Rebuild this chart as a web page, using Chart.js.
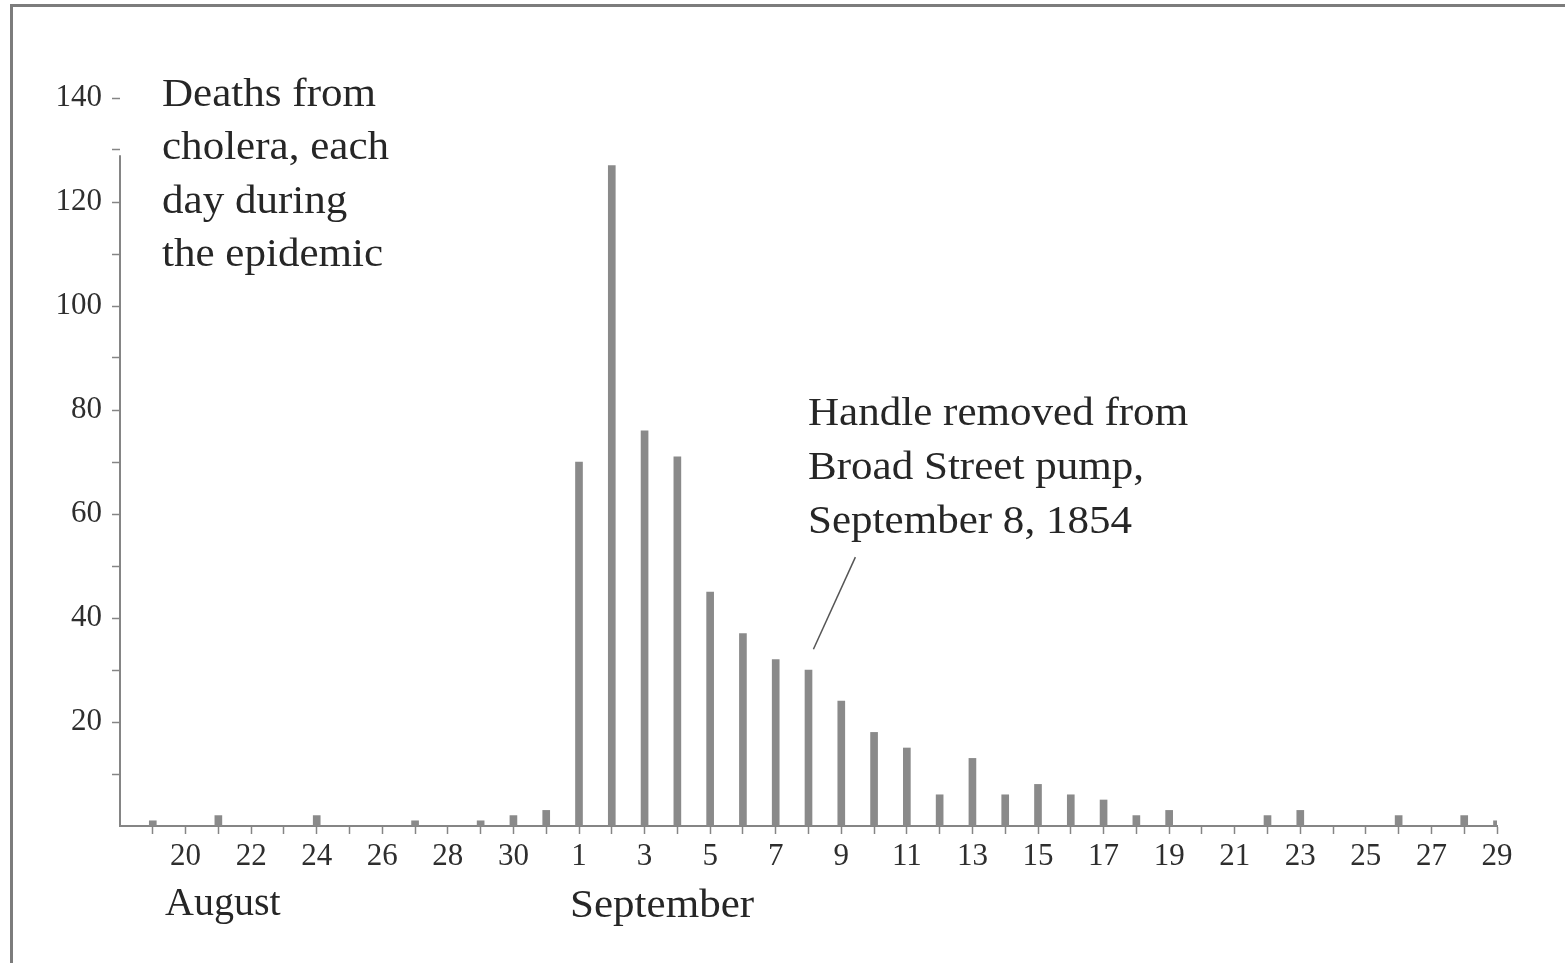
<!DOCTYPE html>
<html>
<head>
<meta charset="utf-8">
<script src="https://cdn.jsdelivr.net/npm/chart.js@4.4.1/dist/chart.umd.min.js"></script>
<style>
  html, body { margin: 0; padding: 0; background: #ffffff; }
  #wrap { position: relative; width: 1565px; height: 963px; overflow: hidden; background: #fff; }
  #frame { position: absolute; left: 10px; top: 4px; width: 1600px; height: 1000px;
           border-top: 3px solid #7c7c7c; border-left: 3px solid #7c7c7c; box-sizing: border-box; pointer-events: none; }
  canvas { position: absolute; left: 0; top: 0; }
</style>
</head>
<body>
<div id="wrap">
  <canvas id="c" width="1565" height="963"></canvas>
  <div id="frame"></div>
</div>
<script>
// ---- data ----
const augustDays = [19, 20, 21, 22, 23, 24, 25, 26, 27, 28, 29, 30, 31];
const septemberDays = [1, 2, 3, 4, 5, 6, 7, 8, 9, 10, 11, 12, 13, 14, 15, 16, 17, 18, 19, 20, 21, 22, 23, 24, 25, 26, 27, 28, 29];
const augustDeaths = [1, 0, 2, 0, 0, 2, 0, 0, 1, 0, 1, 2, 3];
const septemberDeaths = [70, 127, 76, 71, 45, 37, 32, 30, 24, 18, 15, 6, 13, 6, 8, 6, 5, 2, 3, 0, 0, 2, 3, 0, 0, 2, 0, 2, 1];
const augustTickLabels = ['', '20', '', '22', '', '24', '', '26', '', '28', '', '30', ''];
const septemberTickLabels = ['1', '', '3', '', '5', '', '7', '', '9', '', '11', '', '13', '', '15', '', '17', '', '19', '', '21', '', '23', '', '25', '', '27', '', '29'];
const yLabeledTicks = [20, 40, 60, 80, 100, 120, 140];
const monthLabels = ['August', 'September'];
const titleLines = ['Deaths from', 'cholera, each', 'day during', 'the epidemic'];
const noteLines = ['Handle removed from', 'Broad Street pump,', 'September 8, 1854'];
const pumpDay = 8; // September 8

// ---- derived ----
const allTickLabels = augustTickLabels.concat(septemberTickLabels);
const allDeaths = augustDeaths.concat(septemberDeaths);
const points = allDeaths.map((v, i) => ({ x: i + 1, y: v }));
const septemberStart = augustDays.length + 1; // x position of Sep 1
const pumpX = septemberStart + pumpDay - 1;

const AXIS = '#858585';
const TEXT = '#262626';
const SERIF = '"Liberation Serif", "Times New Roman", serif';

function drawStretched(ctx, text, x, y, size, stretch) {
  ctx.save();
  ctx.font = size + 'px ' + SERIF;
  ctx.fillStyle = TEXT;
  ctx.textAlign = 'left';
  ctx.textBaseline = 'alphabetic';
  ctx.translate(x, y);
  ctx.scale(stretch, 1);
  ctx.fillText(text, 0, 0);
  ctx.restore();
}

const decorations = {
  id: 'decorations',
  beforeDatasetsDraw(chart) {
    const ctx = chart.ctx, xs = chart.scales.x, ys = chart.scales.y;
    // vertical axis line (stops short of the top ticks, as in the original)
    ctx.save();
    ctx.strokeStyle = AXIS;
    ctx.lineWidth = 2;
    ctx.beginPath();
    ctx.moveTo(xs.getPixelForValue(0), ys.getPixelForValue(0));
    ctx.lineTo(xs.getPixelForValue(0), ys.getPixelForValue(129));
    ctx.stroke();
    ctx.restore();
  },
  afterDraw(chart) {
    const ctx = chart.ctx, xs = chart.scales.x, ys = chart.scales.y;
    titleLines.forEach((t, i) => drawStretched(ctx, t, 162, 106 + i * 53.3, 41, 1.05));
    noteLines.forEach((t, i) => drawStretched(ctx, t, 808, 425 + i * 54, 41, 1.05));
    ctx.save();
    ctx.strokeStyle = '#555';
    ctx.lineWidth = 1.5;
    ctx.beginPath();
    ctx.moveTo(xs.getPixelForValue(pumpX + 0.15), ys.getPixelForValue(34));
    ctx.lineTo(xs.getPixelForValue(pumpX + 1.43), ys.getPixelForValue(51.7));
    ctx.stroke();
    ctx.restore();
    drawStretched(ctx, monthLabels[0], 165, 915, 40, 1.0);
    drawStretched(ctx, monthLabels[1], 570, 917, 41, 1.05);
  }
};

new Chart(document.getElementById('c'), {
  type: 'bar',
  data: {
    datasets: [{
      data: points,
      backgroundColor: '#8a8a8a',
      borderWidth: 0,
      barThickness: 7
    }]
  },
  options: {
    responsive: false,
    animation: false,
    devicePixelRatio: 1,
    layout: { padding: { left: 20, top: 98, right: 68, bottom: 97 } },
    plugins: { legend: { display: false }, tooltip: { enabled: false }, title: { display: false } },
    scales: {
      x: {
        type: 'linear',
        min: 0,
        max: allDeaths.length,
        offset: false,
        afterFit: (s) => { s.height = 40; },
        border: { display: true, color: AXIS, width: 2 },
        grid: {
          offset: false,
          drawOnChartArea: false,
          drawTicks: true,
          tickLength: 8,
          tickWidth: 1.5,
          tickColor: (c) => (c.tick && c.tick.value === 0) ? 'rgba(0,0,0,0)' : AXIS
        },
        ticks: {
          stepSize: 1,
          autoSkip: false,
          maxRotation: 0,
          padding: 4,
          color: '#2e2e2e',
          font: { family: SERIF, size: 31 },
          callback: (v) => (v >= 1 && v <= allTickLabels.length) ? allTickLabels[v - 1] : ''
        }
      },
      y: {
        min: 0,
        max: 140,
        afterFit: (s) => { s.width = 100; },
        border: { display: false },
        grid: {
          drawOnChartArea: false,
          drawTicks: true,
          tickLength: 8,
          tickWidth: 1.5,
          tickColor: (c) => (c.tick && c.tick.value === 0) ? 'rgba(0,0,0,0)' : AXIS
        },
        ticks: {
          stepSize: 10,
          padding: 10,
          color: '#2e2e2e',
          font: { family: SERIF, size: 31 },
          callback: (v) => yLabeledTicks.includes(v) ? String(v) : ''
        }
      }
    }
  },
  plugins: [decorations]
});
</script>
</body>
</html>
